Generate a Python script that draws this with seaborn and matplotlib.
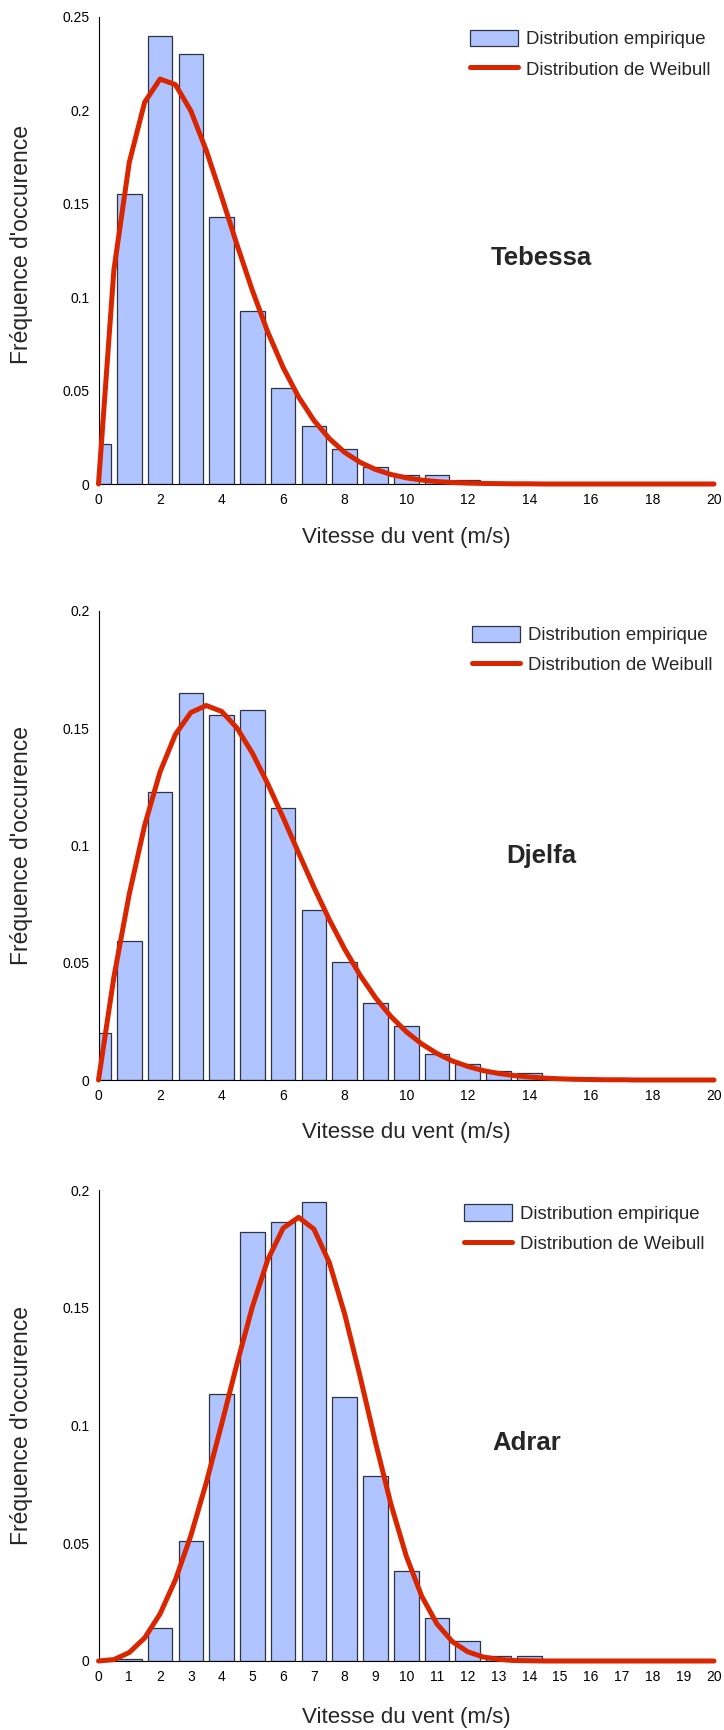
import numpy as np
import matplotlib
matplotlib.use("Agg")
import matplotlib.pyplot as plt
from matplotlib.patches import Patch
from matplotlib.lines import Line2D
from matplotlib.ticker import FuncFormatter, MultipleLocator
import seaborn as sns

sns.set_style("white")
plt.rcParams["font.family"] = ["Liberation Sans", "DejaVu Sans"]

BAR = "#B0C4FF"
EDGE = "#2E3342"
RED = "#D92600"

# Empirical frequencies per 1 m/s class (class centres)
tebessa_speed = list(range(0, 13))
tebessa_freq = [0.0213, 0.1553, 0.2395, 0.2301, 0.1428, 0.0928, 0.0511,
                0.0310, 0.0186, 0.0092, 0.0050, 0.0048, 0.0020]
djelfa_speed = list(range(0, 16))
djelfa_freq = [0.0201, 0.0593, 0.1227, 0.1650, 0.1556, 0.1576, 0.1162, 0.0724,
               0.0503, 0.0327, 0.0231, 0.0111, 0.0070, 0.0039, 0.0029, 0.0008]
adrar_speed = list(range(0, 15))
adrar_freq = [0.0, 0.0010, 0.0142, 0.0509, 0.1132, 0.1823, 0.1863, 0.1949,
              0.1123, 0.0785, 0.0382, 0.0181, 0.0084, 0.0020, 0.0020]

# Fitted Weibull density sampled every 0.5 m/s from 0 to 20
weibull_speed = np.arange(0, 20.5, 0.5)
tebessa_weibull = [0.0, 0.1145, 0.1720, 0.2042, 0.2166, 0.2136, 0.1996, 0.1785,
                   0.1537, 0.1280, 0.1035, 0.0813, 0.0623, 0.0466, 0.0340, 0.0243,
                   0.0169, 0.0116, 0.0078, 0.0051, 0.0033, 0.0021, 0.0013, 0.0008,
                   0.0005, 0.0003, 0.0002, 0.0001, 0.0001, 0.0, 0.0, 0.0,
                   0.0, 0.0, 0.0, 0.0, 0.0, 0.0, 0.0, 0.0, 0.0]
djelfa_weibull = [0.0, 0.0439, 0.0793, 0.1086, 0.1314, 0.1474, 0.1567, 0.1597,
                  0.1572, 0.1501, 0.1394, 0.1263, 0.1119, 0.0969, 0.0822, 0.0684,
                  0.0558, 0.0447, 0.0351, 0.0271, 0.0206, 0.0154, 0.0113, 0.0081,
                  0.0058, 0.0040, 0.0028, 0.0019, 0.0013, 0.0008, 0.0005, 0.0003,
                  0.0002, 0.0001, 0.0001, 0.0, 0.0, 0.0, 0.0, 0.0, 0.0]
adrar_weibull = [0.0, 0.0006, 0.0036, 0.0098, 0.0200, 0.0345, 0.0532, 0.0756,
                 0.1005, 0.1262, 0.1504, 0.1704, 0.1838, 0.1884, 0.1834, 0.1692,
                 0.1473, 0.1208, 0.0929, 0.0667, 0.0446, 0.0276, 0.0157, 0.0082,
                 0.0039, 0.0017, 0.0007, 0.0002, 0.0001, 0.0, 0.0, 0.0,
                 0.0, 0.0, 0.0, 0.0, 0.0, 0.0, 0.0, 0.0, 0.0]

station_names = ["Tebessa", "Djelfa", "Adrar"]
legend_labels = ["Distribution empirique", "Distribution de Weibull"]

W, H = 724, 1730
fig = plt.figure(figsize=(W / 100, H / 100), dpi=100)


def make_axes(left, top, right, bottom):
    return fig.add_axes([left / W, 1 - bottom / H, (right - left) / W, (bottom - top) / H])


boxes = [(98.5, 16.6, 714, 484), (98.5, 611, 714, 1080), (98.5, 1190, 714, 1661)]
speeds = [tebessa_speed, djelfa_speed, adrar_speed]
freqs = [tebessa_freq, djelfa_freq, adrar_freq]
curves = [tebessa_weibull, djelfa_weibull, adrar_weibull]
name_pos = [(14.4, 0.121), (14.4, 0.0955), (13.9, 0.0926)]
ymaxs = [0.25, 0.2, 0.2]
xsteps = [2, 2, 1]
leg_pos = [(0.604, 0.972), (0.607, 0.969), (0.594, 0.97)]
xlabel_y = [-0.093, -0.089, -0.097]
ylabel_y = [0.513, 0.5, 0.5]

for i in range(3):
    ax = make_axes(*boxes[i])
    sns.barplot(x=speeds[i], y=freqs[i], native_scale=True, width=0.8,
                color=BAR, edgecolor=EDGE, linewidth=0.9, saturation=1,
                errorbar=None, ax=ax)
    sns.lineplot(x=weibull_speed, y=curves[i], color=RED, linewidth=3.6, ax=ax,
                 clip_on=False, zorder=3)
    ax.set_xlim(0, 20)
    ax.set_ylim(0, ymaxs[i])
    ax.xaxis.set_major_locator(MultipleLocator(xsteps[i]))
    ax.yaxis.set_major_locator(MultipleLocator(0.05))
    ax.xaxis.set_major_formatter(FuncFormatter(lambda v, p: f"{v:g}"))
    ax.yaxis.set_major_formatter(FuncFormatter(lambda v, p: f"{v:g}"))
    sns.despine(ax=ax)
    for s in ("left", "bottom"):
        ax.spines[s].set_color("black")
        ax.spines[s].set_linewidth(0.8)
    ax.tick_params(direction="in", length=3.6, width=0.8, labelsize=10,
                   colors="black", pad=6.3)
    ax.set_xlabel("Vitesse du vent (m/s)", fontsize=16)
    ax.set_ylabel("Fréquence d'occurence", fontsize=16.5)
    ax.xaxis.set_label_coords(0.5, xlabel_y[i])
    ax.yaxis.set_label_coords(-0.106, ylabel_y[i])
    ax.text(*name_pos[i], station_names[i], fontsize=18.5, fontweight="bold",
            ha="center", va="center")
    handles = [Patch(facecolor=BAR, edgecolor=EDGE, linewidth=0.9),
               Line2D([], [], color=RED, linewidth=3.6)]
    ax.legend(handles, legend_labels,
              loc="upper left", bbox_to_anchor=leg_pos[i], frameon=False,
              fontsize=13.4, handlelength=2.58, handleheight=1.0,
              handletextpad=0.43, labelspacing=0.62, borderpad=0,
              borderaxespad=0)

fig.savefig("out.png", dpi=100)
